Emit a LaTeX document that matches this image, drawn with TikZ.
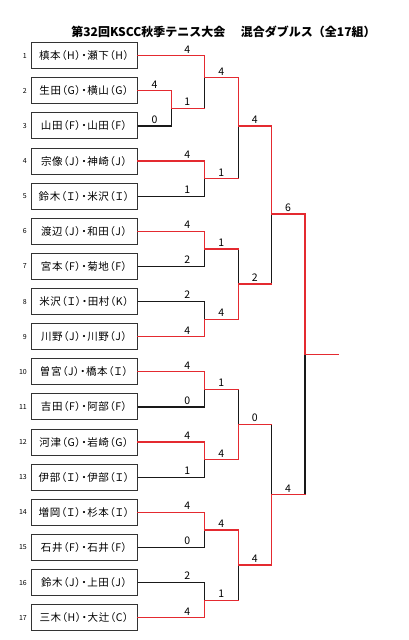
\documentclass[tikz,border=0pt]{standalone}
\usepackage{fontspec}
\setmainfont{Noto Sans CJK JP}
\usetikzlibrary{positioning}
\definecolor{winred}{RGB}{228,42,48}

\begin{document}
\begin{tikzpicture}[
			x=1pt, y=-1pt,
			entry/.style={
					draw=black!80,
					line width=1pt,
					minimum width=106pt,
					minimum height=26pt,
					inner sep=0pt,
					font=\fontsize{10.5}{12}\selectfont\addfontfeature{RawFeature=+palt,LetterSpace=6}
				},
			seed/.style={
					inner sep=0pt,
					font=\fontsize{7}{8}\selectfont
				},
			score/.style={
					anchor=south,
					inner sep=0pt,
					xshift=-17pt,
					yshift=2.5pt,
					font=\fontsize{10.5}{12}\selectfont
				},
			win/.style={
					draw=winred,
					line width=1.35pt,
					line cap=rect
				},
			lose/.style={
					draw=black!90,
					line width=1.35pt
				}
			]
			\useasboundingbox (0,0) rectangle (409,640);

			% ================= タイトル =================
			\node[font=\bfseries\fontsize{12}{14}\selectfont] (title) at (223.5,32)
			{第32回KSCC秋季テニス大会\hspace{1.3em}混合ダブルス（全17組）};

			% ================= 出場ペア =================
			\node[entry] (p1)  at (84,55.7)  {槙本（H）・瀬下（H）};
			\node[entry] (p2)  at (84,90.8)  {生田（G）・横山（G）};
			\node[entry] (p3)  at (84,125.9) {山田（F）・山田（F）};
			\node[entry] (p4)  at (84,161.1) {宗像（J）・神崎（J）};
			\node[entry] (p5)  at (84,196.2) {鈴木（Ｉ）・米沢（Ｉ）};
			\node[entry] (p6)  at (84,231.3) {渡辺（J）・和田（J）};
			\node[entry] (p7)  at (84,266.4) {宮本（F）・菊地（F）};
			\node[entry] (p8)  at (84,301.6) {米沢（Ｉ）・田村（K）};
			\node[entry] (p9)  at (84,336.7) {川野（J）・川野（J）};
			\node[entry] (p10) at (84,371.8) {曽宮（J）・橋本（Ｉ）};
			\node[entry] (p11) at (84,406.9) {吉田（F）・阿部（F）};
			\node[entry] (p12) at (84,442.1) {河津（G）・岩崎（G）};
			\node[entry] (p13) at (84,477.2) {伊部（Ｉ）・伊部（Ｉ）};
			\node[entry] (p14) at (84,512.3) {増岡（Ｉ）・杉本（Ｉ）};
			\node[entry] (p15) at (84,547.4) {石井（F）・石井（F）};
			\node[entry] (p16) at (84,582.6) {鈴木（J）・上田（J）};
			\node[entry] (p17) at (84,617.7) {三木（H）・大辻（C）};

			% 番号
			\node[seed, left=3.5pt of p1]  (n1)  {1};
			\node[seed, left=3.5pt of p2]  (n2)  {2};
			\node[seed, left=3.5pt of p3]  (n3)  {3};
			\node[seed, left=3.5pt of p4]  (n4)  {4};
			\node[seed, left=3.5pt of p5]  (n5)  {5};
			\node[seed, left=3.5pt of p6]  (n6)  {6};
			\node[seed, left=3.5pt of p7]  (n7)  {7};
			\node[seed, left=3.5pt of p8]  (n8)  {8};
			\node[seed, left=3.5pt of p9]  (n9)  {9};
			\node[seed, left=3.5pt of p10] (n10) {10};
			\node[seed, left=3.5pt of p11] (n11) {11};
			\node[seed, left=3.5pt of p12] (n12) {12};
			\node[seed, left=3.5pt of p13] (n13) {13};
			\node[seed, left=3.5pt of p14] (n14) {14};
			\node[seed, left=3.5pt of p15] (n15) {15};
			\node[seed, left=3.5pt of p16] (n16) {16};
			\node[seed, left=3.5pt of p17] (n17) {17};

			% ================= 組み合わせの分岐点 =================
			\coordinate (j23) at (171.5,108.4);
			\coordinate (a1) at (204.3,77.7);
			\coordinate (a2) at (204.3,178.7);
			\coordinate (a3) at (204.3,248.9);
			\coordinate (a4) at (204.3,319.2);
			\coordinate (a5) at (204.3,389.4);
			\coordinate (a6) at (204.3,459.7);
			\coordinate (a7) at (204.3,529.9);
			\coordinate (a8) at (204.3,600.2);
			\coordinate (b1) at (238.2,126);
			\coordinate (b2) at (238.2,284);
			\coordinate (b3) at (238.2,424.5);
			\coordinate (b4) at (238.2,565);
			\coordinate (c1) at (271.8,214);
			\coordinate (c2) at (271.8,494.8);
			\coordinate (fin) at (305,354.4);
			\coordinate (champ) at (338.5,354.4);

			% ================= 敗者側の線（黒） =================
			\draw[lose] (p3.east) -| (j23);
			\draw[lose] (j23 -| a1) -- (a1);
			\draw[lose] (p5.east) -| (a2);
			\draw[lose] (p7.east) -| (a3);
			\draw[lose] (p8.east) -| (a4);
			\draw[lose] (p11.east) -| (a5);
			\draw[lose] (p13.east) -| (a6);
			\draw[lose] (p15.east) -| (a7);
			\draw[lose] (p16.east) -| (a8);
			\draw[lose] (a2 -| b1) -- (b1);
			\draw[lose] (a3 -| b2) -- (b2);
			\draw[lose] (a5 -| b3) -- (b3);
			\draw[lose] (a8 -| b4) -- (b4);
			\draw[lose] (b2 -| c1) -- (c1);
			\draw[lose] (b3 -| c2) -- (c2);
			\draw[lose] (c2 -| fin) -- (fin);

			% ================= 勝ち上がりの線（赤） =================
			\draw[win] (p2.east) -| (j23) -- (j23 -| a1);
			\draw[win] (p1.east) -| (a1) -- (a1 -| b1);
			\draw[win] (p4.east) -| (a2) -- (a2 -| b1);
			\draw[win] (p6.east) -| (a3) -- (a3 -| b2);
			\draw[win] (p9.east) -| (a4) -- (a4 -| b2);
			\draw[win] (p10.east) -| (a5) -- (a5 -| b3);
			\draw[win] (p12.east) -| (a6) -- (a6 -| b3);
			\draw[win] (p14.east) -| (a7) -- (a7 -| b4);
			\draw[win] (p17.east) -| (a8) -- (a8 -| b4);
			\draw[win] (a1 -| b1) -- (b1) -- (b1 -| c1);
			\draw[win] (a4 -| b2) -- (b2) -- (b2 -| c1);
			\draw[win] (a6 -| b3) -- (b3) -- (b3 -| c2);
			\draw[win] (a7 -| b4) -- (b4) -- (b4 -| c2);
			\draw[win] (b1 -| c1) -- (c1) -- (c1 -| fin);
			\draw[win] (b4 -| c2) -- (c2) -- (c2 -| fin);
			\draw[win] (c1 -| fin) -- (fin) -- (champ);

			% ================= スコア =================
			\node[score] (s2)  at (p2.east -| j23) {4};
			\node[score] (s3)  at (p3.east -| j23) {0};
			\node[score] (s1)  at (p1.east -| a1)  {4};
			\node[score] (sj)  at (j23 -| a1)      {1};
			\node[score] (s4)  at (p4.east -| a2)  {4};
			\node[score] (s5)  at (p5.east -| a2)  {1};
			\node[score] (s6)  at (p6.east -| a3)  {4};
			\node[score] (s7)  at (p7.east -| a3)  {2};
			\node[score] (s8)  at (p8.east -| a4)  {2};
			\node[score] (s9)  at (p9.east -| a4)  {4};
			\node[score] (s10) at (p10.east -| a5) {4};
			\node[score] (s11) at (p11.east -| a5) {0};
			\node[score] (s12) at (p12.east -| a6) {4};
			\node[score] (s13) at (p13.east -| a6) {1};
			\node[score] (s14) at (p14.east -| a7) {4};
			\node[score] (s15) at (p15.east -| a7) {0};
			\node[score] (s16) at (p16.east -| a8) {2};
			\node[score] (s17) at (p17.east -| a8) {4};
			\node[score] (sa1) at (a1 -| b1) {4};
			\node[score] (sa2) at (a2 -| b1) {1};
			\node[score] (sa3) at (a3 -| b2) {1};
			\node[score] (sa4) at (a4 -| b2) {4};
			\node[score] (sa5) at (a5 -| b3) {1};
			\node[score] (sa6) at (a6 -| b3) {4};
			\node[score] (sa7) at (a7 -| b4) {4};
			\node[score] (sa8) at (a8 -| b4) {1};
			\node[score] (sb1) at (b1 -| c1) {4};
			\node[score] (sb2) at (b2 -| c1) {2};
			\node[score] (sb3) at (b3 -| c2) {0};
			\node[score] (sb4) at (b4 -| c2) {4};
			\node[score] (sc1) at (c1 -| fin) {6};
			\node[score] (sc2) at (c2 -| fin) {4};

		\end{tikzpicture}
\end{document}
